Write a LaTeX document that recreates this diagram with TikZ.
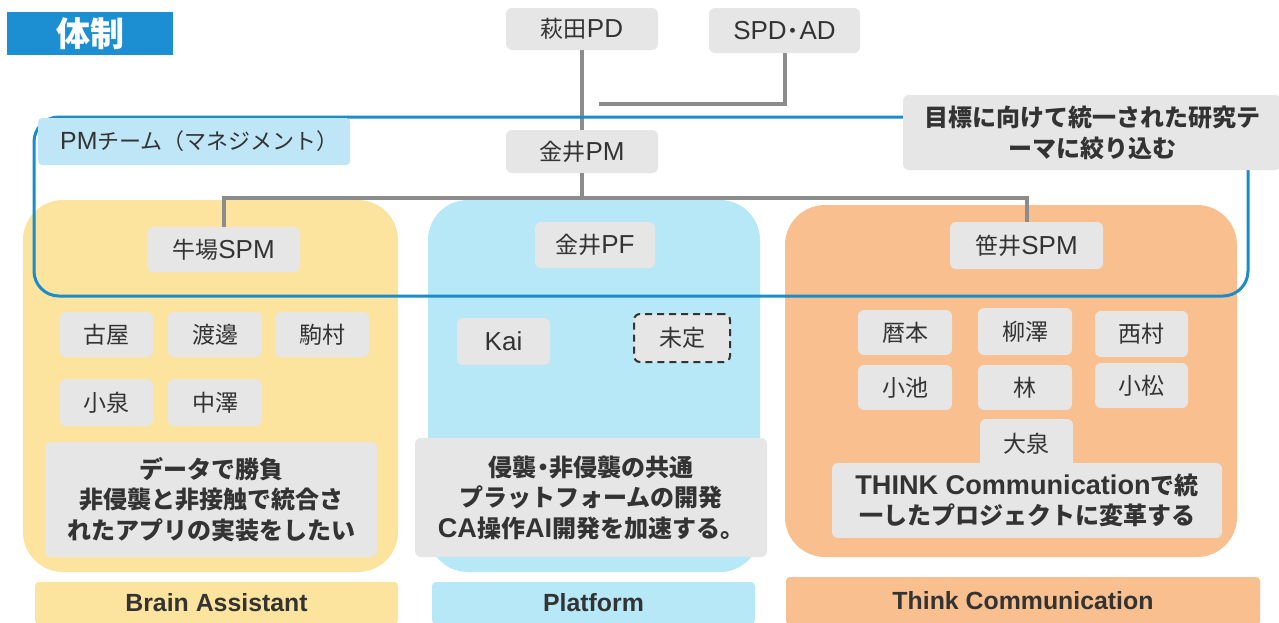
\documentclass[tikz,border=0pt]{standalone}
\usepackage{fontspec}
\setmainfont{Noto Sans CJK JP}
\newfontfamily\lat{Liberation Sans}[Scale=1.13]
\newcommand{\mdot}{\kern-0.22em・\kern-0.22em}
\definecolor{titleblue}{HTML}{1B8FD2}
\definecolor{outlineblue}{HTML}{1A8CCB}
\definecolor{pmblue}{HTML}{BEE6F7}
\definecolor{boxgray}{HTML}{E6E6E6}
\definecolor{linegray}{HTML}{8C8C8C}
\definecolor{txt}{HTML}{333333}
\definecolor{ylw}{HTML}{FDE49E}
\definecolor{cyn}{HTML}{B6E8F8}
\definecolor{org}{HTML}{F9BF8E}
\begin{document}
\begin{tikzpicture}[x=1pt,y=-1pt,
  gbox/.style={fill=boxgray, rounded corners=6pt, inner sep=0pt, text=txt, font=\fontsize{23}{28}\selectfont, align=center},
  dbox/.style={gbox, font=\bfseries\fontsize{24}{30.5}\selectfont},
  conn/.style={draw=linegray, line width=4pt},
  panel/.style={rounded corners=40pt},
  bar/.style={inner sep=0pt, text=txt, font=\lat\bfseries\fontsize{22}{26}\selectfont, rounded corners=4pt}
]
\useasboundingbox (0,0) rectangle (1279,622);
\fill[white] (0,0) rectangle (1279,622);
% panels
\fill[ylw, panel] (23,200) rectangle (398,572);
\fill[cyn, panel] (428,200) rectangle (760,572);
\fill[org, panel] (785,205) rectangle (1237,557);
% bottom bars
\node[bar, fill=ylw, minimum width=363pt, minimum height=42pt] (ba) at (216.5,603) {Brain Assistant};
\node[bar, fill=cyn, minimum width=323pt, minimum height=42pt] (pf) at (593.5,603) {Platform};
\node[bar, fill=org, minimum width=474pt, minimum height=48pt] (tc) at (1023,601) {Think Communication};
% title
\node[fill=titleblue, text=white, font=\bfseries\fontsize{34}{36}\selectfont, minimum width=166pt, minimum height=43pt, inner sep=0pt] (title) at (90,33.5) {体制};
% top nodes
\node[gbox, minimum width=152pt, minimum height=42pt] (hagita) at (582,29) {萩田{\lat PD}};
\node[gbox, minimum width=151pt, minimum height=45pt] (spd) at (784.5,30.5) {{\lat SPD}\mdot{\lat AD}};
\node[gbox, minimum width=152pt, minimum height=43pt] (kanaiPM) at (582,151.5) {金井{\lat PM}};
\node[gbox, minimum width=153pt, minimum height=45pt] (ushiba) at (223.5,249.5) {牛場{\lat SPM}};
\node[gbox, minimum width=120pt, minimum height=46pt] (kanaiPF) at (595,245) {金井{\lat PF}};
\node[gbox, minimum width=153pt, minimum height=47pt] (sasai) at (1026.5,245.5) {笹井{\lat SPM}};
% connectors
\coordinate (spdend) at (599,104);
\coordinate (bus) at (582,198);
\draw[conn] (spd.south) |- (spdend);
\draw[conn] (hagita.south) -- (kanaiPM.north);
\draw[conn] (kanaiPM.south) -- (bus);
\draw[conn] (ushiba.north) -- (ushiba.north |- bus) -- (sasai.north |- bus) -- (sasai.north);
% PM team outline
\draw[outlineblue, line width=3pt, rounded corners=25pt] (34,117) rectangle (1248,296);
\node[fill=pmblue, rounded corners=4pt, anchor=west, minimum height=47pt, text width=268pt, inner xsep=22pt, inner ysep=0pt, text=txt, font=\fontsize{22}{24}\selectfont] (pmlabel) at (38,141.5) {{\lat PM}チーム（マネジメント）};
\node[gbox, font=\bfseries\fontsize{24}{31}\selectfont, minimum width=378pt, minimum height=75pt] (goal) at (1092,132.5) {目標に向けて統一された研究テ\\ーマに絞り込む};
% Brain Assistant members
\node[gbox, minimum width=93pt, minimum height=45pt] (furuya) at (106.5,334.5) {古屋};
\node[gbox, minimum width=94pt, minimum height=45pt] (watanabe) at (215,334.5) {渡邊};
\node[gbox, minimum width=94pt, minimum height=45pt] (komamura) at (322,334.5) {駒村};
\node[gbox, minimum width=93pt, minimum height=47pt] (koizumi) at (106.5,402.5) {小泉};
\node[gbox, minimum width=94pt, minimum height=47pt] (nakazawa) at (215,402.5) {中澤};
\node[dbox, minimum width=332pt, minimum height=115pt] (ydesc) at (211,499.5) {データで勝負\\非侵襲と非接触で統合さ\\れたアプリの実装をしたい};
% Platform members
\node[gbox, minimum width=93pt, minimum height=47pt] (kai) at (503.5,341.5) {{\lat Kai}};
\node[gbox, draw=txt, line width=2pt, dashed, dash pattern=on 7pt off 5pt, minimum width=96pt, minimum height=48pt] (mitei) at (682,338) {未定};
\node[dbox, minimum width=352pt, minimum height=119pt] (pdesc) at (591,497.5) {侵襲\mdot 非侵襲の共通\\プラットフォームの開発\\{\lat CA}操作{\lat AI}開発を加速する。};
% Think members
\node[gbox, minimum width=94pt, minimum height=45pt] (rekimoto) at (905,332.5) {暦本};
\node[gbox, minimum width=94pt, minimum height=47pt] (yanagisawa) at (1025,331.5) {柳澤};
\node[gbox, minimum width=93pt, minimum height=46pt] (nishimura) at (1141.5,334) {西村};
\node[gbox, minimum width=94pt, minimum height=45pt] (koike) at (905,387.5) {小池};
\node[gbox, minimum width=94pt, minimum height=45pt] (hayashi) at (1025,387.5) {林};
\node[gbox, minimum width=93pt, minimum height=45pt] (komatsu) at (1141.5,385.5) {小松};
\node[gbox, minimum width=93pt, minimum height=50pt] (oizumi) at (1026.5,444) {大泉};
\node[dbox, minimum width=390pt, minimum height=75pt] (tdesc) at (1027,500.5) {{\lat THINK Communication}で統\\一したプロジェクトに変革する};
\end{tikzpicture}
\end{document}
